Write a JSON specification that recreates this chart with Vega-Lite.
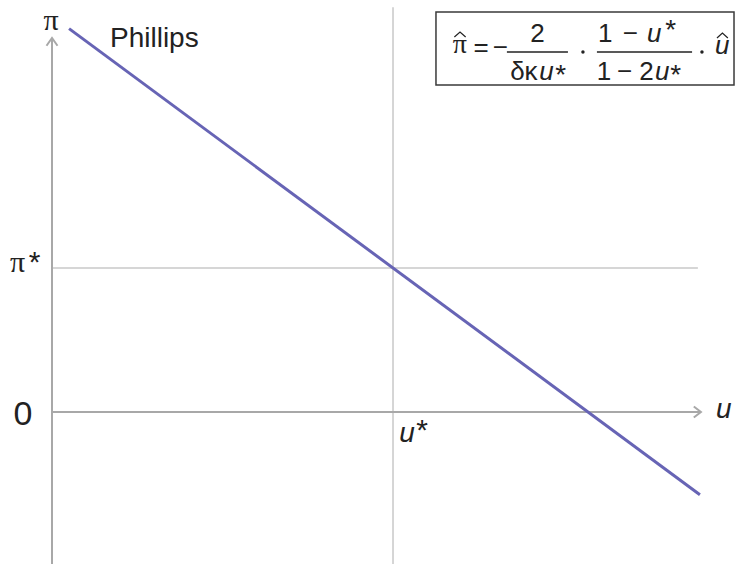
{
  "$schema": "https://vega.github.io/schema/vega-lite/v6.json",
  "width": 735,
  "height": 564,
  "autosize": "none",
  "padding": 0,
  "background": "white",
  "config": {"view": {"stroke": null}},
  "encoding": {
    "x": {"field": "u", "type": "quantitative", "scale": {"domain": [-1.525, 20.029], "nice": false, "zero": false}, "axis": null},
    "y": {"field": "p", "type": "quantitative", "scale": {"domain": [-10.556, 28.611], "nice": false, "zero": false}, "axis": null}
  },
  "layer": [
    {
      "description": "steady-state reference lines u = u* and pi = pi*",
      "data": {"values": [
        {"line": "u*", "u": 10, "p": 28.1, "u2": 10, "p2": -10.556},
        {"line": "π*", "u": 0, "p": 10, "u2": 18.94, "p2": 10}
      ]},
      "mark": {"type": "rule", "color": "#c8c8c8", "strokeWidth": 1.5},
      "encoding": {"x2": {"field": "u2"}, "y2": {"field": "p2"}}
    },
    {
      "description": "coordinate axes",
      "data": {"values": [
        {"axis": "π", "u": 0, "p": -10.556, "u2": 0, "p2": 25.97},
        {"axis": "u", "u": 0, "p": 0, "u2": 19.03, "p2": 0}
      ]},
      "mark": {"type": "rule", "color": "#a8a8a8", "strokeWidth": 2},
      "encoding": {"x2": {"field": "u2"}, "y2": {"field": "p2"}}
    },
    {
      "description": "open arrowheads at the axis ends",
      "data": {"values": [
        {"axis": "π", "u": 0, "p": 25.97},
        {"axis": "u", "u": 19.03, "p": 0}
      ]},
      "mark": {"type": "point", "filled": false, "color": "#a8a8a8", "strokeWidth": 2, "size": 121, "opacity": 1},
      "encoding": {
        "shape": {"field": "axis", "type": "nominal", "scale": {"domain": ["π", "u"], "range": ["M-1,1.4L0,0L1,1.4", "M-1.3,-1L0,0L-1.3,1"]}, "legend": null}
      }
    },
    {
      "description": "Phillips curve",
      "data": {"values": [
        {"u": 0.5, "p": 26.625},
        {"u": 19.0, "p": -5.75}
      ]},
      "mark": {"type": "line", "color": "#6764b5", "strokeWidth": 3},
      "encoding": {}
    },
    {
      "description": "formula frame",
      "data": {"values": [{"u": 11.26, "u2": 20.0, "p": 27.78, "p2": 22.71}]},
      "mark": {"type": "rect", "fill": "white", "stroke": "#3a3a3a", "strokeWidth": 1.5},
      "encoding": {"x2": {"field": "u2"}, "y2": {"field": "p2"}}
    },
    {
      "description": "fraction bars",
      "data": {"values": [
        {"u": 13.34, "u2": 15.13, "p": 25.0},
        {"u": 15.98, "u2": 18.77, "p": 25.0}
      ]},
      "mark": {"type": "rule", "color": "#222222", "strokeWidth": 1.5},
      "encoding": {"x2": {"field": "u2"}}
    },
    {
      "description": "multiplication dots, level with the fraction bars",
      "data": {"values": [
        {"u": 15.57, "p": 25.0},
        {"u": 19.06, "p": 25.0}
      ]},
      "mark": {"type": "circle", "color": "#222222", "size": 12, "opacity": 1},
      "encoding": {}
    },
    {
      "description": "hats over pi and u",
      "data": {"values": [
        {"hat": "π", "u": 11.80, "p": 26.04},
        {"hat": "π", "u": 11.965, "p": 26.39},
        {"hat": "π", "u": 12.13, "p": 26.04},
        {"hat": "u", "u": 19.50, "p": 25.97},
        {"hat": "u", "u": 19.66, "p": 26.32},
        {"hat": "u", "u": 19.82, "p": 25.97}
      ]},
      "mark": {"type": "line", "color": "#222222", "strokeWidth": 1.2},
      "encoding": {"detail": {"field": "hat"}}
    },
    {
      "data": {"values": [
        {"label": "π", "u": -0.03, "p": 26.53},
        {"label": "π", "u": -1.01, "p": 9.72}
      ]},
      "mark": {"type": "text", "font": "Liberation Serif", "fontSize": 30, "align": "center", "baseline": "alphabetic", "color": "#222222"},
      "encoding": {"text": {"field": "label"}}
    },
    {
      "data": {"values": [{"label": "π", "u": 11.96, "p": 24.93}]},
      "mark": {"type": "text", "font": "Liberation Serif", "fontSize": 28, "align": "center", "baseline": "alphabetic", "color": "#222222"},
      "encoding": {"text": {"field": "label"}}
    },
    {
      "data": {"values": [{"label": "Phillips", "u": 1.70, "p": 25.35}]},
      "mark": {"type": "text", "font": "Liberation Sans", "fontSize": 28, "align": "left", "baseline": "alphabetic", "color": "#222222"},
      "encoding": {"text": {"field": "label"}}
    },
    {
      "data": {"values": [{"label": "0", "u": -0.85, "p": -0.9}]},
      "mark": {"type": "text", "font": "Liberation Sans", "fontSize": 34, "align": "center", "baseline": "alphabetic", "color": "#222222"},
      "encoding": {"text": {"field": "label"}}
    },
    {
      "data": {"values": [
        {"label": "u", "u": 10.18, "p": -2.08},
        {"label": "u", "u": 19.47, "p": -0.42}
      ]},
      "mark": {"type": "text", "font": "Liberation Sans", "fontStyle": "italic", "fontSize": 28, "align": "left", "baseline": "alphabetic", "color": "#222222"},
      "encoding": {"text": {"field": "label"}}
    },
    {
      "data": {"values": [
        {"label": "*", "u": -0.513, "p": 9.75},
        {"label": "*", "u": 10.85, "p": -1.93}
      ]},
      "mark": {"type": "text", "font": "Liberation Sans", "fontSize": 30, "align": "center", "baseline": "alphabetic", "color": "#222222"},
      "encoding": {"text": {"field": "label"}}
    },
    {
      "data": {"values": [
        {"label": "*", "u": 18.14, "p": 25.9},
        {"label": "*", "u": 14.92, "p": 22.75},
        {"label": "*", "u": 18.29, "p": 22.75}
      ]},
      "mark": {"type": "text", "font": "Liberation Sans", "fontSize": 28, "align": "center", "baseline": "alphabetic", "color": "#222222"},
      "encoding": {"text": {"field": "label"}}
    },
    {
      "data": {"values": [
        {"label": "=", "u": 12.58, "p": 24.72},
        {"label": "−", "u": 13.15, "p": 24.72},
        {"label": "2", "u": 14.24, "p": 25.69},
        {"label": "1", "u": 16.22, "p": 25.69},
        {"label": "−", "u": 16.96, "p": 25.69},
        {"label": "1", "u": 16.19, "p": 23.06},
        {"label": "−", "u": 16.79, "p": 23.06},
        {"label": "2", "u": 17.43, "p": 23.06},
        {"label": "δ", "u": 13.65, "p": 23.06},
        {"label": "κ", "u": 14.05, "p": 23.06}
      ]},
      "mark": {"type": "text", "font": "Liberation Sans", "fontSize": 26, "align": "center", "baseline": "alphabetic", "color": "#222222"},
      "encoding": {"text": {"field": "label"}}
    },
    {
      "data": {"values": [
        {"label": "u", "u": 14.29, "p": 23.06},
        {"label": "u", "u": 17.45, "p": 25.69},
        {"label": "u", "u": 17.68, "p": 23.06},
        {"label": "u", "u": 19.44, "p": 24.86}
      ]},
      "mark": {"type": "text", "font": "Liberation Sans", "fontStyle": "italic", "fontSize": 26, "align": "left", "baseline": "alphabetic", "color": "#222222"},
      "encoding": {"text": {"field": "label"}}
    }
  ]
}
